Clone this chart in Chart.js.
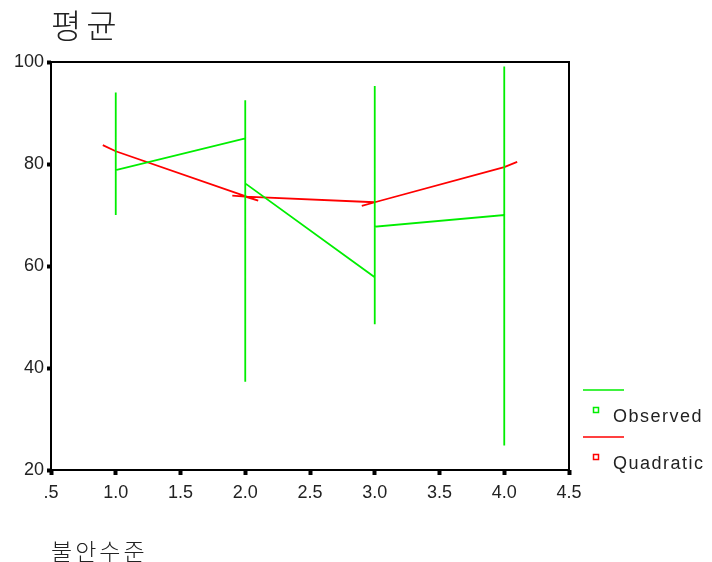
<!DOCTYPE html>
<html>
<head>
<meta charset="utf-8">
<script src="https://cdn.jsdelivr.net/npm/chart.js@4/dist/chart.umd.min.js"></script>
<style>
  html, body { margin:0; padding:0; background:#fff; }
  #wrap { position:relative; width:712px; height:562px; }
  .t { position:absolute; font-family:"Noto Sans CJK KR", sans-serif; font-weight:300; color:#222; white-space:nowrap; }
</style>
</head>
<body>
<div id="wrap">
  <canvas id="chart" width="712" height="562"></canvas>
  <div class="t" style="left:51px; top:0px; font-size:33px; letter-spacing:5px;">평균</div>
  <div class="t" style="left:51px; top:533px; font-size:23px; letter-spacing:3px;">불안수준</div>
</div>
<script>
// observed values, in data order (x = anxiety level)
const obsX = [1, 1, 1, 1, 2, 2, 2, 2, 2, 3, 3, 3, 3, 3, 4, 4, 4, 4];
const obsY = [94, 70, 86, 78.8, 85, 92.5, 37.3, 60, 76.2, 57.8, 95.3, 48.6, 83, 67.7, 70, 99.1, 24.8, 55];

// quadratic fit, drawn as the stats package does (short overlapping strokes at each level)
const fitX = [0.9, 1, 2, 2.1, 2, 1.9, 2, 3, 2.9, 3, 4, 4.1];
const fitY = [83.7, 82.5, 73.7, 72.8, 73.6, 73.8, 73.6, 72.5, 71.8, 72.5, 79.4, 80.4];

const xTicks = [0.5, 1, 1.5, 2, 2.5, 3, 3.5, 4, 4.5];
const yTicks = [20, 40, 60, 80, 100];

const legendItems = [
  { label: 'Observed', color: '#00ee00' },
  { label: 'Quadratic', color: '#ff0000' }
];

const pts = (xs, ys) => xs.map((x, i) => ({ x: x, y: ys[i] }));
const tickFont = { family: '"Liberation Sans", Arial, sans-serif', size: 18 };

const frame = {
  id: 'frame',
  afterDraw(chart) {
    const { ctx, chartArea: a } = chart;
    ctx.save();
    ctx.strokeStyle = '#000';
    ctx.lineWidth = 2;
    ctx.strokeRect(a.left, a.top, a.right - a.left, a.bottom - a.top);
    // legend at the right
    let y = 390;
    ctx.font = '18px "Liberation Sans", Arial, sans-serif';
    ctx.letterSpacing = '1.5px';
    ctx.textBaseline = 'middle';
    legendItems.forEach(it => {
      ctx.strokeStyle = it.color;
      ctx.lineWidth = 1.5;
      ctx.beginPath();
      ctx.moveTo(583, y); ctx.lineTo(624, y);
      ctx.stroke();
      ctx.strokeRect(593.5, y + 17.5, 5, 5);
      ctx.fillStyle = '#222';
      ctx.fillText(it.label, 613, y + 27);
      y += 47;
    });
    ctx.restore();
  }
};

new Chart(document.getElementById('chart'), {
  type: 'scatter',
  data: {
    datasets: [
      { label: 'Observed', data: pts(obsX, obsY), showLine: true, borderColor: '#00ee00',
        borderWidth: 1.8, pointRadius: 0, tension: 0 },
      { label: 'Quadratic', data: pts(fitX, fitY), showLine: true, borderColor: '#ff0000',
        borderWidth: 1.8, pointRadius: 0, tension: 0 }
    ]
  },
  options: {
    responsive: false,
    animation: false,
    layout: { padding: { left: 0, top: 62, right: 143, bottom: 62 } },
    plugins: { legend: { display: false }, tooltip: { enabled: false } },
    scales: {
      x: {
        type: 'linear', min: 0.5, max: 4.5,
        afterBuildTicks: s => { s.ticks = xTicks.map(v => ({ value: v })); },
        afterFit: s => { s.height = 30; },
        border: { display: false },
        grid: { drawOnChartArea: false, drawTicks: true, tickLength: 5, tickWidth: 4, tickColor: '#000' },
        ticks: {
          color: '#222', padding: 7, font: tickFont,
          callback: v => v === 0.5 ? '.5' : v.toFixed(1)
        }
      },
      y: {
        min: 20, max: 100,
        afterBuildTicks: s => { s.ticks = yTicks.map(v => ({ value: v })); },
        afterFit: s => { s.width = 51; },
        border: { display: false },
        grid: { drawOnChartArea: false, drawTicks: true, tickLength: 4, tickWidth: 4, tickColor: '#000' },
        ticks: { color: '#222', padding: 3, font: tickFont }
      }
    }
  },
  plugins: [frame]
});
</script>
</body>
</html>
